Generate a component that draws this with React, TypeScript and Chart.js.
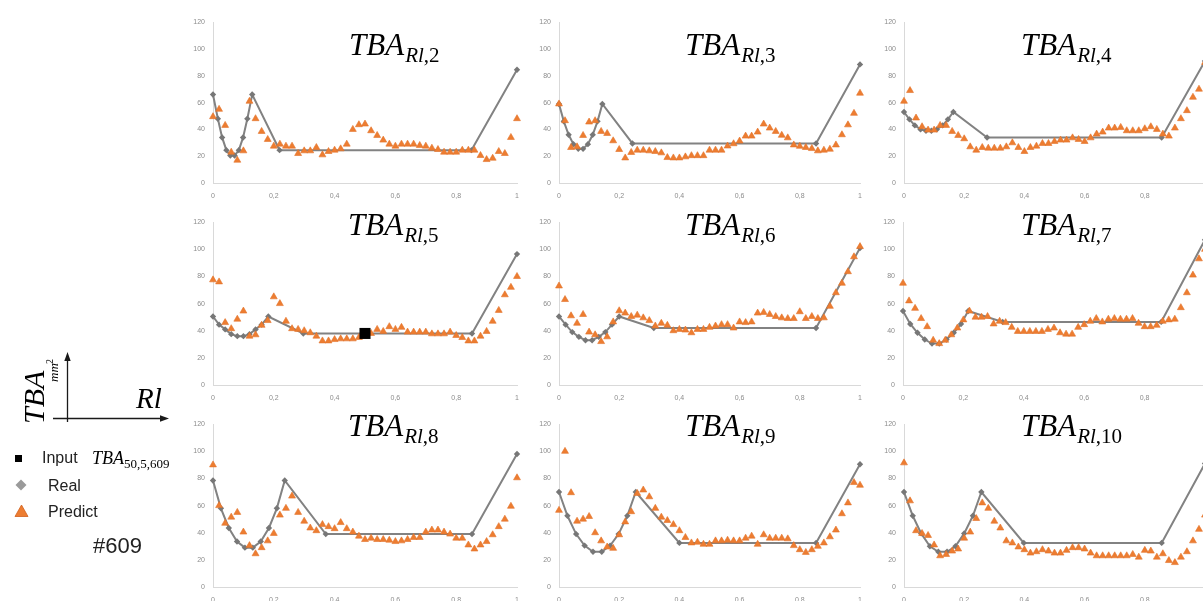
import React, { useEffect, useRef } from 'react';
import { Chart, registerables } from 'chart.js';

Chart.register(...registerables);

// ---------- tick labels ----------
const xTickValues = [0, 0.2, 0.4, 0.6, 0.8, 1];
const xTickLabels = ['0', '0,2', '0,4', '0,6', '0,8', '1'];
const yTickValues = [0, 20, 40, 60, 80, 100, 120];
const yTickLabels = ['0', '20', '40', '60', '80', '100', '120'];

// ---------- shared Rl positions of the predicted points ----------
const predX = [0, 0.02, 0.04, 0.06, 0.08, 0.1, 0.12, 0.14, 0.16, 0.18, 0.2, 0.22, 0.24, 0.26, 0.28, 0.3, 0.32, 0.34, 0.36, 0.38, 0.4, 0.42, 0.44, 0.46, 0.48, 0.5, 0.52, 0.54, 0.56, 0.58, 0.6, 0.62, 0.64, 0.66, 0.68, 0.7, 0.72, 0.74, 0.76, 0.78, 0.8, 0.82, 0.84, 0.86, 0.88, 0.9, 0.92, 0.94, 0.96, 0.98, 1];

// ---------- TBA Rl,2 ----------
const real2X = [0, 0.016, 0.03, 0.044, 0.057, 0.071, 0.085, 0.099, 0.113, 0.129, 0.219, 0.85, 1];
const real2Y = [66, 48, 34, 24.5, 20.5, 20.5, 24.5, 34, 48, 66, 24.5, 24.5, 84.5];
const pred2Y = [49.5, 55, 43, 23, 17, 24, 61, 48, 38.5, 32.5, 27.5, 29, 27.5, 27.5, 22, 24, 24, 26.5, 21, 23.5, 24.5, 25.5, 29, 40, 43.5, 44, 39, 35.5, 32, 29, 27.5, 29, 29, 29, 28, 27.5, 26, 25, 23, 23, 23, 24.5, 24.5, 24.5, 20.5, 17.5, 18.5, 23.5, 22, 34, 48];

// ---------- TBA Rl,3 ----------
const real3X = [0, 0.016, 0.032, 0.048, 0.064, 0.08, 0.096, 0.112, 0.128, 0.144, 0.244, 0.854, 1];
const real3Y = [59, 46, 36, 29, 25.5, 25.5, 29, 36, 46, 59, 29.5, 29.5, 88.5];
const pred3Y = [59, 46.5, 26.5, 27, 35.5, 45.5, 46.5, 38.5, 37, 31.5, 25, 18.7, 22.8, 24.5, 24.5, 24, 23.5, 22.5, 19, 18.7, 18.7, 19.5, 20.4, 20.4, 20.4, 24.5, 24.5, 24.5, 27.6, 29.3, 31.3, 35, 35, 38, 44, 41, 38.5, 35.6, 33.7, 28.4, 27.4, 26.5, 25.7, 24, 24.5, 25.2, 28.4, 36, 43.4, 52, 67];

// ---------- TBA Rl,4 ----------
const real4X = [0, 0.018, 0.036, 0.055, 0.073, 0.091, 0.109, 0.128, 0.146, 0.164, 0.276, 0.856, 1];
const real4Y = [53, 47.5, 43, 40, 39, 39, 40, 43, 47.5, 53, 34, 34, 91];
const pred4Y = [61, 69, 48.5, 42, 39.5, 39.5, 43, 43, 38.5, 35.5, 33, 27, 24.5, 26.5, 26, 26, 26, 27, 30, 26.5, 23.5, 26.5, 27.5, 29.5, 29.5, 31, 32, 32, 33.7, 32.5, 31, 33.7, 36.5, 38, 41, 41, 41.5, 39, 39, 39, 40.5, 42, 40, 36.5, 35, 41, 48, 54, 64, 70, 90];

// ---------- TBA Rl,5 (with input point) ----------
const real5X = [0, 0.02, 0.04, 0.06, 0.08, 0.1, 0.12, 0.14, 0.16, 0.182, 0.297, 0.852, 1];
const real5Y = [50.5, 44.5, 41, 37.5, 36, 36, 37.5, 41, 44.5, 50.5, 38, 38, 96.5];
const pred5Y = [77.5, 76, 46, 41.5, 48.5, 54.5, 36, 37, 44, 47.5, 65, 60, 47, 41.5, 41, 40, 38.5, 36, 32.5, 32.5, 33.5, 34, 34, 34, 35, 37, 38, 41, 39.5, 43, 41, 42.5, 39, 39, 39, 39, 37.7, 37.7, 37.7, 39, 36.5, 35, 32.5, 32.5, 36, 39.5, 47, 55, 66.5, 72, 80];
const inputX = [0.5];
const inputY = [38];

// ---------- TBA Rl,6 ----------
const real6X = [0, 0.022, 0.044, 0.066, 0.088, 0.11, 0.132, 0.154, 0.176, 0.2, 0.315, 0.854, 1];
const real6Y = [50.5, 44.5, 39, 35.5, 33, 33, 35.5, 39, 44.5, 50.5, 42, 42, 101];
const pred6Y = [73, 63, 51, 45.5, 52, 39, 37, 32, 35.5, 46.5, 54.7, 53, 50.5, 51.5, 49.5, 47.5, 43.5, 45.5, 44, 40, 41, 40.5, 38.5, 41, 41, 42.5, 43.5, 44.5, 44.5, 42, 46.5, 46, 46.5, 53, 53.5, 52, 50.5, 49.5, 49, 49, 54, 49, 50.5, 49, 49.5, 58, 68, 75, 83.5, 94.5, 102];

// ---------- TBA Rl,7 ----------
const real7X = [0, 0.024, 0.048, 0.072, 0.096, 0.12, 0.144, 0.168, 0.192, 0.216, 0.33, 0.855, 1];
const real7Y = [54.5, 45, 38.5, 33.5, 30.5, 30.5, 33.5, 38.5, 45, 54.5, 46.5, 46.5, 107];
const pred7Y = [75, 62, 56.5, 49, 43, 33, 30.5, 33, 37, 42, 48, 54.5, 50, 50, 50.5, 45, 47, 46, 42.5, 39.5, 39.5, 39.5, 39.5, 39.5, 41, 42, 38.5, 37.5, 37.5, 42.5, 44.5, 47, 49, 46.5, 48.5, 49, 48.5, 48.5, 49, 45.5, 43, 43, 44, 47, 48, 48.5, 57, 68, 81, 93, 100];

// ---------- TBA Rl,8 ----------
const real8X = [0, 0.026, 0.052, 0.079, 0.105, 0.131, 0.157, 0.184, 0.21, 0.236, 0.371, 0.852, 1];
const real8Y = [78.5, 58, 43.5, 33.5, 29, 29, 33.5, 43.5, 58, 78.5, 39, 39, 98];
const pred8Y = [90, 60, 47, 51.5, 55, 40.5, 30.5, 24.5, 29, 34, 39.5, 53, 58, 67, 55, 48.5, 43.5, 41.5, 46, 44.5, 43, 47.5, 43, 40.5, 37.5, 35, 36, 35, 35, 34.5, 33.5, 34, 35, 36.5, 36.5, 40.5, 42, 42, 40.5, 39, 36, 36, 31, 28, 31, 33.5, 38.5, 44.5, 50, 59.5, 80.5];

// ---------- TBA Rl,9 ----------
const real9X = [0, 0.028, 0.057, 0.085, 0.113, 0.142, 0.17, 0.198, 0.227, 0.255, 0.4, 0.854, 1];
const real9Y = [70, 52.5, 39, 30.5, 26, 26, 30.5, 39, 52.5, 70, 32.5, 32.5, 90.5];
const pred9Y = [56.5, 100, 69.5, 48.5, 50, 52, 40, 34, 29.5, 28.5, 38.5, 48, 55.5, 69, 71.5, 66.5, 58, 51.5, 49, 46, 41.5, 36.5, 32.5, 33, 31.5, 31.5, 34, 34, 34.5, 34, 34, 36, 37.5, 31.5, 38.5, 36, 36, 36, 35.5, 30.5, 27.5, 25.5, 27.5, 30, 32.5, 37, 42, 54, 62, 77, 75];

// ---------- TBA Rl,10 ----------
const real10X = [0, 0.029, 0.057, 0.086, 0.114, 0.143, 0.171, 0.2, 0.229, 0.257, 0.398, 0.856, 1];
const real10Y = [70, 52.5, 39.5, 30, 26, 26, 30, 39.5, 52.5, 70, 32.5, 32.5, 91];
const pred10Y = [91.5, 63.5, 41.5, 39.5, 38, 31, 23, 24, 26.5, 28, 36, 40.5, 50.5, 62, 58, 48.5, 43.5, 34, 32.5, 29.5, 27.5, 25, 26, 27.5, 26.5, 25, 25, 27, 29, 29, 28, 25, 23, 23, 23, 23, 23, 23, 24, 22, 27, 26.5, 22, 24.5, 19.5, 18, 22, 26, 34, 42.5, 53];

const panels = [
  { sub: '2', realX: real2X, realY: real2Y, predY: pred2Y },
  { sub: '3', realX: real3X, realY: real3Y, predY: pred3Y },
  { sub: '4', realX: real4X, realY: real4Y, predY: pred4Y },
  { sub: '5', realX: real5X, realY: real5Y, predY: pred5Y, inX: inputX, inY: inputY },
  { sub: '6', realX: real6X, realY: real6Y, predY: pred6Y },
  { sub: '7', realX: real7X, realY: real7Y, predY: pred7Y },
  { sub: '8', realX: real8X, realY: real8Y, predY: pred8Y },
  { sub: '9', realX: real9X, realY: real9Y, predY: pred9Y },
  { sub: '10', realX: real10X, realY: real10Y, predY: pred10Y },
];

// layout of each plot area (page pixels) and its title
const boxes = [
  { x0: 213, x1: 517, yT: 18, yB: 183, tx: 349, tb: 55 },
  { x0: 559, x1: 860, yT: 18, yB: 183, tx: 685, tb: 55 },
  { x0: 904, x1: 1205, yT: 18, yB: 183, tx: 1021, tb: 55 },
  { x0: 213, x1: 517, yT: 218, yB: 385, tx: 348, tb: 235 },
  { x0: 559, x1: 860, yT: 218, yB: 385, tx: 685, tb: 235 },
  { x0: 903, x1: 1205, yT: 218, yB: 385, tx: 1021, tb: 235 },
  { x0: 213, x1: 517, yT: 420, yB: 587, tx: 348, tb: 436 },
  { x0: 559, x1: 860, yT: 420, yB: 587, tx: 685, tb: 436 },
  { x0: 904, x1: 1205, yT: 420, yB: 587, tx: 1021, tb: 436 },
];

const PAD_L = 40;
const PAD_R = 12;
const PAD_T = 8;
const PAD_B = 22;

const ORANGE = '#ED7D31';
const GREY = '#828282';
const AXIS = '#d9d9d9';
const TICK_FONT = { family: '"Liberation Sans", Arial, sans-serif', size: 7 };
const TICK_COLOR = '#8c8c8c';

function Panel({ p, b }: { p: any; b: any }) {
  const ref = useRef<HTMLCanvasElement>(null);
  const w = b.x1 - b.x0 + PAD_L + PAD_R;
  const h = b.yB - b.yT + PAD_T + PAD_B;
  useEffect(() => {
    const datasets: any[] = [];
    if (p.inX) {
      datasets.push({
        label: 'Input',
        data: p.inX.map((x: number, i: number) => ({ x, y: p.inY[i] })),
        showLine: false,
        pointStyle: 'rect',
        pointRadius: 7.8,
        backgroundColor: '#000',
        borderColor: '#000',
        borderWidth: 0,
        order: 0,
        clip: false,
      });
    }
    datasets.push({
      label: 'Predict',
      data: predX.map((x, i) => ({ x, y: p.predY[i] })),
      showLine: false,
      pointStyle: 'triangle',
      pointRadius: 4,
      backgroundColor: ORANGE,
      borderColor: '#E2722A',
      borderWidth: 0.6,
      order: 1,
      clip: false,
    });
    datasets.push({
      label: 'Real',
      data: p.realX.map((x: number, i: number) => ({ x, y: p.realY[i] })),
      showLine: true,
      borderColor: GREY,
      borderWidth: 2,
      tension: 0,
      pointStyle: 'rectRot',
      pointRadius: 3.2,
      pointBackgroundColor: '#777',
      pointBorderColor: '#777',
      pointBorderWidth: 0,
      order: 2,
      clip: false,
    });
    const chart = new Chart(ref.current as HTMLCanvasElement, {
      type: 'scatter',
      data: { datasets },
      options: {
        animation: false,
        responsive: false,
        maintainAspectRatio: false,
        events: [],
        layout: { padding: { left: 0, right: PAD_R, top: PAD_T, bottom: 0 } },
        plugins: { legend: { display: false }, tooltip: { enabled: false }, title: { display: false } },
        scales: {
          x: {
            type: 'linear',
            min: 0,
            max: 1,
            afterBuildTicks: (s: any) => {
              s.ticks = xTickValues.map((v) => ({ value: v }));
            },
            afterFit: (s: any) => {
              s.height = PAD_B;
            },
            ticks: {
              callback: (_v: any, i: number) => xTickLabels[i],
              font: TICK_FONT,
              color: TICK_COLOR,
              padding: 9,
              maxRotation: 0,
              autoSkip: false,
            },
            grid: { display: false, drawTicks: false },
            border: { display: true, color: AXIS, width: 1 },
          },
          y: {
            type: 'linear',
            min: 0,
            max: 120,
            afterBuildTicks: (s: any) => {
              s.ticks = yTickValues.map((v) => ({ value: v }));
            },
            afterFit: (s: any) => {
              s.width = PAD_L;
            },
            ticks: {
              callback: (_v: any, i: number) => yTickLabels[i],
              font: TICK_FONT,
              color: TICK_COLOR,
              padding: 8,
              autoSkip: false,
            },
            grid: { display: false, drawTicks: false },
            border: { display: true, color: AXIS, width: 1 },
          },
        },
      },
    } as any);
    return () => chart.destroy();
  }, []);
  return (
    <>
      <canvas
        ref={ref}
        width={w}
        height={h}
        style={{ position: 'absolute', left: b.x0 - PAD_L, top: b.yT - PAD_T, width: w, height: h }}
      />
      <div
        style={{
          position: 'absolute',
          left: b.tx,
          top: b.tb - 0.8375 * 31,
          fontFamily: '"Liberation Serif", "Times New Roman", serif',
          fontStyle: 'italic',
          fontSize: 31,
          lineHeight: 1,
          whiteSpace: 'nowrap',
          color: '#000',
        }}
      >
        TBA
        <span style={{ position: 'relative', top: 7, fontSize: 21, marginLeft: 1 }}>
          Rl<span style={{ fontStyle: 'normal' }}>,{p.sub}</span>
        </span>
      </div>
    </>
  );
}

const SERIF = '"Liberation Serif", "Times New Roman", serif';
const SANS = '"Liberation Sans", Arial, sans-serif';

function Legend() {
  const tbaSize = 30;
  const b = 0.8375 * tbaSize;
  return (
    <>
      <svg style={{ position: 'absolute', left: 0, top: 0 }} width={200} height={601}>
        <line x1={67.5} y1={422} x2={67.5} y2={359} stroke="#1a1a1a" strokeWidth={1.3} />
        <polygon points="67.5,352 64.3,361 70.7,361" fill="#1a1a1a" />
        <line x1={53} y1={418.5} x2={161} y2={418.5} stroke="#1a1a1a" strokeWidth={1.3} />
        <polygon points="169,418.5 160,415.3 160,421.7" fill="#1a1a1a" />
        <rect x={15} y={455} width={7} height={7} fill="#000" />
        <polygon points="21,479.5 26.5,485 21,490.5 15.5,485" fill="#9a9a9a" />
        <polygon points="21.5,505 28,516.5 15,516.5" fill={ORANGE} stroke="#D0601C" strokeWidth={0.8} />
      </svg>
      {/* rotated axis label */}
      <div
        style={{
          position: 'absolute',
          left: 44 - b,
          top: 424,
          width: 100,
          height: 40,
          transformOrigin: '0 0',
          transform: 'rotate(-90deg)',
          fontFamily: SERIF,
          fontStyle: 'italic',
          lineHeight: 1,
          whiteSpace: 'nowrap',
        }}
      >
        <span style={{ position: 'absolute', left: 0, top: 0, fontSize: tbaSize }}>TBA</span>
        <span style={{ position: 'absolute', left: 42, top: b + 14 - 0.8375 * 13, fontSize: 13 }}>mm</span>
        <span style={{ position: 'absolute', left: 60, top: b + 9 - 0.8375 * 10, fontSize: 10, fontStyle: 'normal' }}>2</span>
      </div>
      <div
        style={{
          position: 'absolute',
          left: 136,
          top: 408 - 0.8375 * 29,
          fontFamily: SERIF,
          fontStyle: 'italic',
          fontSize: 29,
          lineHeight: 1,
        }}
      >
        Rl
      </div>
      <div style={{ position: 'absolute', left: 42, top: 464 - 0.8465 * 16, fontFamily: SANS, fontSize: 16, lineHeight: 1, color: '#222', whiteSpace: 'nowrap' }}>
        Input
      </div>
      <div style={{ position: 'absolute', left: 92, top: 464 - 0.8375 * 18, fontFamily: SERIF, fontStyle: 'italic', fontSize: 18, lineHeight: 1, whiteSpace: 'nowrap' }}>
        TBA
        <span style={{ position: 'relative', top: 4, fontSize: 13, fontStyle: 'normal' }}>50,5,609</span>
      </div>
      <div style={{ position: 'absolute', left: 48, top: 491.5 - 0.8465 * 16, fontFamily: SANS, fontSize: 16, lineHeight: 1, color: '#222' }}>
        Real
      </div>
      <div style={{ position: 'absolute', left: 48, top: 517.5 - 0.8465 * 16, fontFamily: SANS, fontSize: 16, lineHeight: 1, color: '#222' }}>
        Predict
      </div>
      <div style={{ position: 'absolute', left: 93, top: 554 - 0.8465 * 22, fontFamily: SANS, fontSize: 22, lineHeight: 1, color: '#222' }}>
        #609
      </div>
    </>
  );
}

export default function App() {
  return (
    <div
      style={{
        position: 'fixed',
        left: 0,
        top: 0,
        width: 1203,
        height: 601,
        overflow: 'hidden',
        background: '#fff',
      }}
    >
      {panels.map((p, i) => (
        <Panel key={i} p={p} b={boxes[i]} />
      ))}
      <Legend />
    </div>
  );
}
